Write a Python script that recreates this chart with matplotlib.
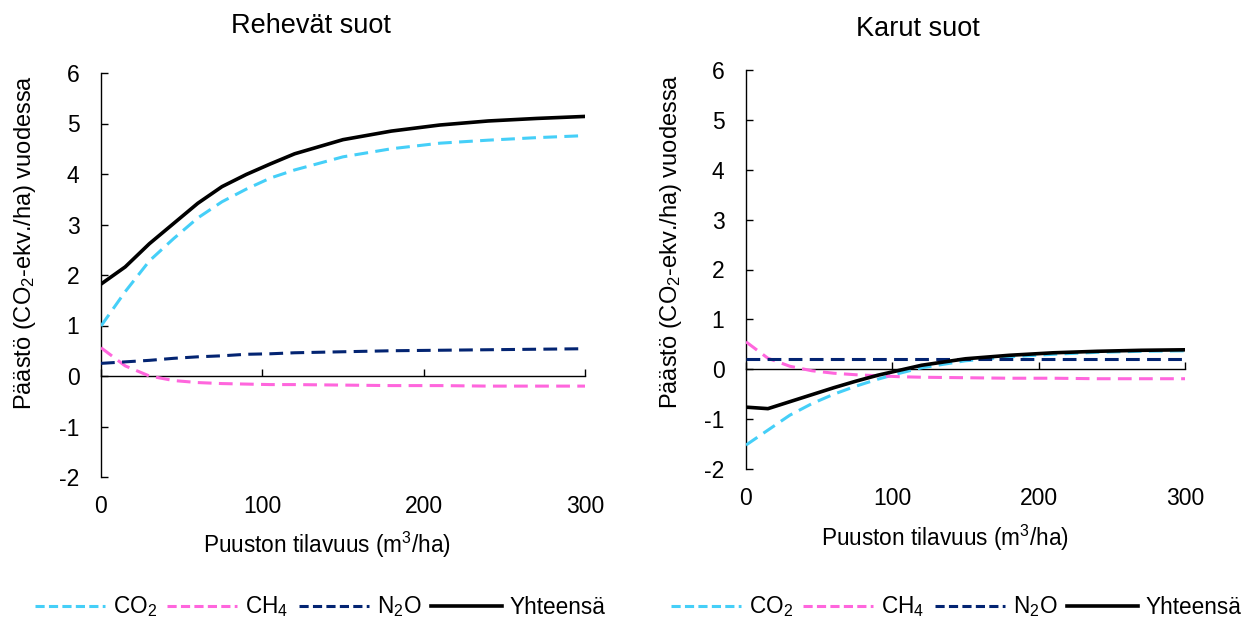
import matplotlib
matplotlib.use("Agg")
import matplotlib.pyplot as plt
from matplotlib.lines import Line2D

plt.rcParams['font.family'] = ['Liberation Sans', 'DejaVu Sans']
plt.rcParams['mathtext.fontset'] = 'custom'
plt.rcParams['mathtext.rm'] = 'Liberation Sans'
plt.rcParams['mathtext.it'] = 'Liberation Sans'
plt.rcParams['mathtext.default'] = 'regular'

# Data
volume = [0, 15, 30, 45, 60, 75, 90, 105, 120, 150, 180, 210, 240, 270, 300]

rich_co2 = [0.99, 1.67, 2.28, 2.72, 3.13, 3.45, 3.70, 3.92, 4.08, 4.34, 4.50, 4.61, 4.67, 4.72, 4.76]
rich_ch4 = [0.56, 0.20, 0.00, -0.09, -0.13, -0.15, -0.16, -0.17, -0.17, -0.18, -0.19, -0.19, -0.20, -0.20, -0.20]
rich_n2o = [0.25, 0.28, 0.31, 0.35, 0.38, 0.40, 0.43, 0.44, 0.46, 0.48, 0.50, 0.51, 0.52, 0.53, 0.54]
rich_total = [1.82, 2.16, 2.62, 3.02, 3.42, 3.75, 3.99, 4.20, 4.40, 4.68, 4.85, 4.97, 5.05, 5.10, 5.14]

poor_co2 = [-1.52, -1.22, -0.92, -0.69, -0.50, -0.34, -0.20, -0.08, 0.03, 0.17, 0.25, 0.30, 0.34, 0.36, 0.37]
poor_ch4 = [0.55, 0.22, 0.06, -0.03, -0.08, -0.11, -0.13, -0.15, -0.16, -0.17, -0.18, -0.18, -0.19, -0.19, -0.19]
poor_n2o = [0.21, 0.21, 0.21, 0.21, 0.21, 0.21, 0.21, 0.21, 0.21, 0.21, 0.21, 0.21, 0.21, 0.21, 0.21]
poor_total = [-0.76, -0.79, -0.65, -0.51, -0.37, -0.24, -0.12, -0.02, 0.08, 0.21, 0.28, 0.33, 0.36, 0.38, 0.39]

titles = ["Rehevät suot", "Karut suot"]
series_labels = [r"CO$_2$", r"CH$_4$", r"N$_2$O", "Yhteensä"]
colors = ["#45CFF8", "#FF66DD", "#032472", "#000000"]
xticks = [0, 100, 200, 300]
yticks = [-2, -1, 0, 1, 2, 3, 4, 5, 6]
ylabel = r"Päästö (CO$_2$-ekv./ha) vuodessa"
xlabel = r"Puuston tilavuus (m$^3$/ha)"

W, H = 1246, 618
fig = plt.figure(figsize=(W / 100, H / 100), dpi=100)

TICK_FS = 16.5
LAB_FS = 16.3
TITLE_FS = 19.5

axes_px = [(101, 585, 73, 477), (746, 1185, 70, 469)]
title_px = [(311, 33), (918, 36)]
xlabel_px = [(327, 553), (945, 546)]
ylabel_px = [(25, 242), (671, 241)]
legend_px = [(320, 607), (956, 607)]

datasets = [
    (rich_co2, rich_ch4, rich_n2o, rich_total),
    (poor_co2, poor_ch4, poor_n2o, poor_total),
]

DASH = (0, (4.5, 2.4))
LEG_DASH = (0, (3.0, 1.4))

for i in range(2):
    x0, x1, y0, y1 = axes_px[i]
    ax = fig.add_axes([x0 / W, 1 - y1 / H, (x1 - x0) / W, (y1 - y0) / H])
    co2, ch4, n2o, tot = datasets[i]
    for vals, c in zip((co2, ch4, n2o), colors[:3]):
        ax.plot(volume, vals, color=c, lw=2.2, linestyle=DASH,
                dash_capstyle='butt', zorder=3)
    ax.plot(volume, tot, color=colors[3], lw=2.6, zorder=4)

    ax.set_xlim(0, 300)
    ax.set_ylim(-2, 6)
    ax.spines['top'].set_visible(False)
    ax.spines['right'].set_visible(False)
    ax.spines['bottom'].set_position(('data', 0))
    ax.spines['bottom'].set_linewidth(1.0)
    ax.spines['left'].set_linewidth(1.0)
    ax.set_xticks(xticks)
    ax.set_yticks(yticks)
    ax.tick_params(axis='y', direction='in', length=5, width=1, labelsize=TICK_FS, pad=15.5)
    ax.tick_params(axis='x', direction='in', length=5, width=1, labelbottom=False)
    ax.set_yticklabels([str(t) for t in yticks])

    sec = ax.secondary_xaxis(0.0)
    sec.spines['bottom'].set_visible(False)
    sec.set_xticks(xticks)
    sec.set_xticklabels([str(t) for t in xticks])
    sec.tick_params(length=0, labelsize=TICK_FS, pad=13)

    tx, ty = title_px[i]
    fig.text(tx / W, 1 - ty / H, titles[i], ha='center', va='baseline', fontsize=TITLE_FS)
    lx, ly = xlabel_px[i]
    fig.text(lx / W, 1 - ly / H, xlabel, ha='center', va='baseline', fontsize=LAB_FS)
    yx, yy = ylabel_px[i]
    fig.text(yx / W, 1 - yy / H, ylabel, ha='center', va='center', fontsize=17, rotation=90)

    handles = [Line2D([], [], color=c, lw=2.2, linestyle=LEG_DASH, dash_capstyle='butt')
               for c in colors[:3]]
    handles.append(Line2D([], [], color=colors[3], lw=2.6))
    gx, gy = legend_px[i]
    fig.legend(handles=handles, labels=series_labels, loc='center',
               bbox_to_anchor=(gx / W, 1 - gy / H),
               ncol=4, frameon=False, fontsize=LAB_FS, handlelength=3.1,
               columnspacing=0.45, handletextpad=0.35, borderaxespad=0,
               borderpad=0)

fig.savefig("out.png", dpi=100, facecolor='white')
